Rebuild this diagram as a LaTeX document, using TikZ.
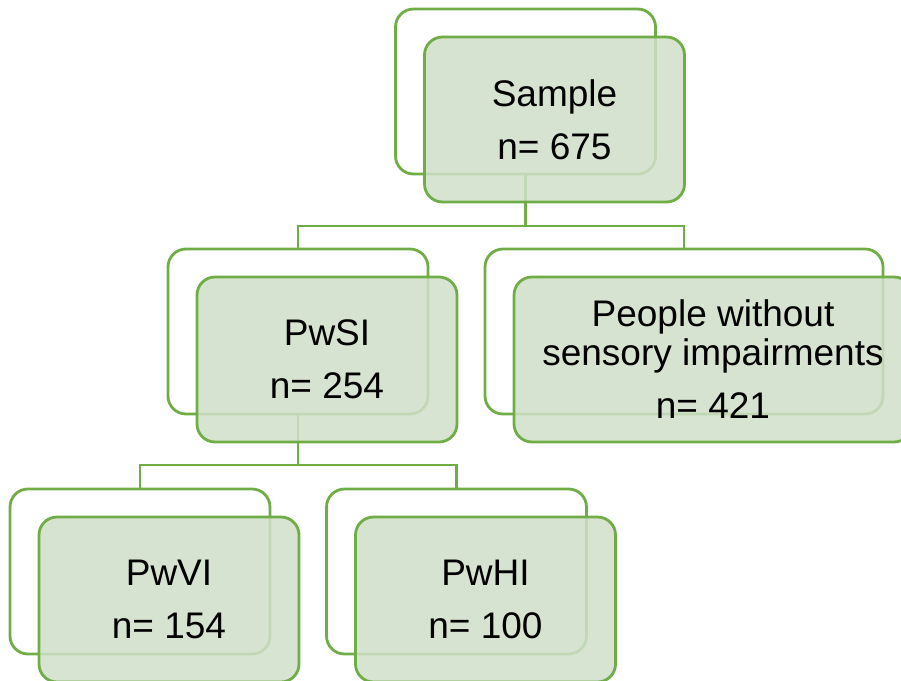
\documentclass[tikz,border=0pt]{standalone}
\usepackage{fontspec}
\setmainfont{Liberation Sans}
\usetikzlibrary{backgrounds}
\definecolor{orgline}{RGB}{112,173,71}
\definecolor{orgfill}{RGB}{209,223,202}
\tikzset{
  backbox/.style={draw=orgline, line width=2.8pt, fill=white, rounded corners=18pt,
    minimum width=260pt, minimum height=165pt, inner sep=0pt},
  frontbox/.style={draw=orgline, line width=2.8pt, fill=orgfill, fill opacity=0.85,
    text opacity=1, rounded corners=18pt, minimum width=260pt, minimum height=165pt,
    inner sep=0pt, align=center, text=black, font=\fontsize{37}{39}\selectfont},
  link/.style={draw=orgline, line width=2.3pt}
}
\begin{document}
\begin{tikzpicture}[x=1pt, y=-1pt]
\useasboundingbox (0,0) rectangle (901,680);

% back plates
\node[backbox] (sampleB) at (525.5,91.5) {};
\node[backbox] (pwsiB) at (298,331.5) {};
\node[backbox, minimum width=398pt] (nosiB) at (684,331.5) {};
\node[backbox] (pwviB) at (140,571.5) {};
\node[backbox] (pwhiB) at (456.5,571.5) {};

% front cards with labels
\node[frontbox] (sampleF) at (554.5,119.5) {Sample\\[14pt]n= 675};
\node[frontbox] (pwsiF) at (327,359.5) {PwSI\\[14pt]n= 254};
\node[frontbox, minimum width=398pt] (nosiF) at (713,359.5) {People without\\sensory impairments\\[14pt]n= 421};
\node[frontbox] (pwviF) at (169,599.5) {PwVI\\[14pt]n= 154};
\node[frontbox] (pwhiF) at (485.5,599.5) {PwHI\\[14pt]n= 100};

% tree connectors
\coordinate (busA) at (525.5,226);
\coordinate (busB) at (298,465);
\begin{scope}[on background layer]
  \draw[link] (sampleB.south) -- (busA);
  \draw[link] (pwsiB.north) |- (busA) -| (nosiB.north);
  \draw[link] (pwsiB.south) -- (busB);
  \draw[link] (pwviB.north) |- (busB) -| (pwhiB.north);
\end{scope}
\end{tikzpicture}
\end{document}
